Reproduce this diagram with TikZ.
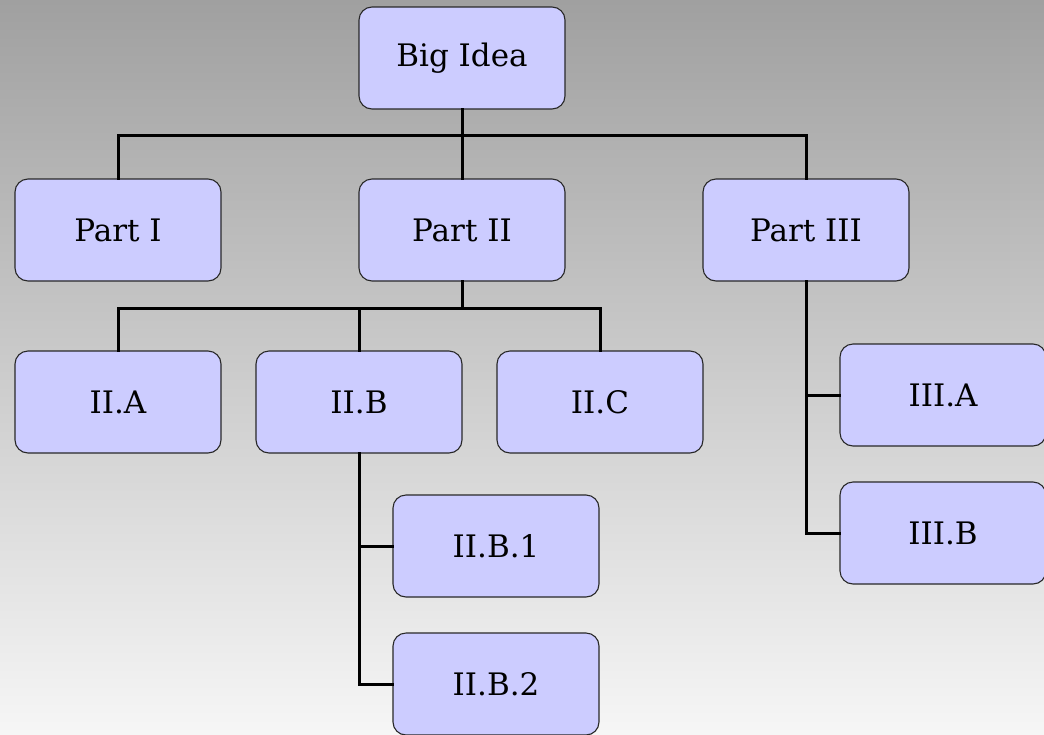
\documentclass[tikz,border=0pt]{standalone}
\usepackage{fontspec}
\setmainfont{DejaVu Serif}
\usepackage{tikz}

\definecolor{boxfill}{RGB}{204,204,255}
\definecolor{boxline}{RGB}{40,40,40}
\definecolor{bgtop}{RGB}{160,160,160}
\definecolor{bgbottom}{RGB}{246,246,246}

\begin{document}
\begin{tikzpicture}[x=1pt, y=-1pt, link/.style={line width=3pt, line cap=rect},
		every node/.style={draw=boxline, line width=1.1pt, fill=boxfill, rounded corners=13pt, minimum width=206pt, minimum height=102pt, inner sep=0pt, font=\fontsize{31}{37}\selectfont}]
		\shade[top color=bgtop, bottom color=bgbottom] (0,0) rectangle (1044,734);
		\useasboundingbox (0,0) rectangle (1044,734);

		\node (big)		at (462, 58)	{Big Idea};
		\node (p1)		at (118, 230)	{Part I};
		\node (p2)		at (462, 230)	{Part II};
		\node (p3)		at (806, 230)	{Part III};
		\node (iia)		at (118, 402)	{II.A};
		\node (iib)		at (359, 402)	{II.B};
		\node (iic)		at (600, 402)	{II.C};
		\node (iib1)	at (496, 546)	{II.B.1};
		\node (iib2)	at (496, 684)	{II.B.2};
		\node (iiia)	at (943, 395)	{III.A};
		\node (iiib)	at (943, 533)	{III.B};

		\draw[link] (big.south) -- ++(0,26) -| (p1.north);
		\draw[link] (big.south) -- (p2.north);
		\draw[link] (big.south) -- ++(0,26) -| (p3.north);

		\draw[link] (p2.south) -- ++(0,27) -| (iia.north);
		\draw[link] (p2.south) -- ++(0,27) -| (iib.north);
		\draw[link] (p2.south) -- ++(0,27) -| (iic.north);

		\draw[link] (iib.south) |- (iib1.west);
		\draw[link] (iib.south) |- (iib2.west);

		\draw[link] (p3.south) |- (iiia.west);
		\draw[link] (p3.south) |- (iiib.west);
	\end{tikzpicture}
\end{document}
